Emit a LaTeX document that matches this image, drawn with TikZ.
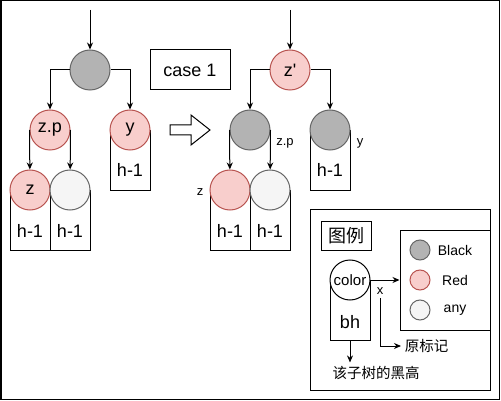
\documentclass[tikz,border=0pt]{standalone}
\usepackage{fontspec}
\setmainfont{Liberation Sans}
\newfontfamily\cjk{Noto Sans CJK SC}
\usetikzlibrary{arrows.meta}
\definecolor{blkfill}{HTML}{B3B3B3}
\definecolor{blkline}{HTML}{666666}
\definecolor{redfill}{HTML}{F8CECC}
\definecolor{redline}{HTML}{B85450}
\definecolor{anyfill}{HTML}{F5F5F5}

\begin{document}
\begin{tikzpicture}[x=1pt, y=-1pt, line width=1pt,
    big/.style={font=\fontsize{18}{20}\selectfont},
    small/.style={font=\fontsize{13}{15}\selectfont},
    cn/.style={font=\cjk\fontsize{14.5}{16}\selectfont},
    blacknode/.style={circle, draw=blkline, fill=blkfill, minimum size=40pt, inner sep=0pt},
    rednode/.style={circle, draw=redline, fill=redfill, minimum size=40pt, inner sep=0pt, big},
    anynode/.style={circle, draw=blkline, fill=anyfill, minimum size=40pt, inner sep=0pt},
    subtree/.style={draw, anchor=north, minimum width=40pt, minimum height=60pt, inner sep=0pt},
    arr/.style={-{Stealth[length=7pt, width=6pt]}}]

    \useasboundingbox (0,0) rectangle (501,401);
    \draw[line width=1.5pt] (0.75,0.75) rectangle (499.5,399.5);

    % Left tree, before the recolouring
    \node[subtree] (yt) at (130,130) {};
    \node[subtree] (zt) at (30,190) {};
    \node[subtree] (wt) at (70,190) {};
    \node[blacknode] (g) at (90,70) {};
    \node[rednode] (zp) at (50,130) {z.p};
    \node[rednode] (uncle) at (130,130) {y};
    \node[rednode] (z) at (30,190) {z};
    \node[anynode] (w) at (70,190) {};
    \node[big] (yh) at (130,170) {h-1};
    \node[big] (zh) at (30,231) {h-1};
    \node[big] (wh) at (70,231) {h-1};
    \coordinate (gin) at (90,10);
    \draw[arr] (gin) -- (g);
    \draw[arr] (g.west) -| (zp);
    \draw[arr] (g.east) -| (uncle);
    \draw[arr] (zp.west) -- (z);
    \draw[arr] (zp.east) -- (w);

    \node[draw, big, minimum width=80pt, minimum height=40pt] (case) at (190,70) {case 1};
    \draw[fill=white] (170,125) -- (191,125) -- (191,115) -- (210,130)
        -- (191,145) -- (191,135) -- (170,135) -- cycle;

    % Right tree, after the recolouring
    \node[subtree] (yt2) at (330,130) {};
    \node[subtree] (zt2) at (230,190) {};
    \node[subtree] (wt2) at (270,190) {};
    \node[rednode] (g2) at (290,70) {z\textquotesingle};
    \node[blacknode] (zp2) at (250,130) {};
    \node[blacknode] (uncle2) at (330,130) {};
    \node[rednode] (z2) at (230,190) {};
    \node[anynode] (w2) at (270,190) {};
    \node[big] (yh2) at (330,170) {h-1};
    \node[big] (zh2) at (230,231) {h-1};
    \node[big] (wh2) at (270,231) {h-1};
    \node[small] (zplbl) at (285,143) {z.p};
    \node[small] (ylbl) at (360,143) {y};
    \node[small] (zlbl) at (200,192) {z};
    \coordinate (gin2) at (290,10);
    \draw[arr] (gin2) -- (g2);
    \draw[arr] (g2.west) -| (zp2);
    \draw[arr] (g2.east) -| (uncle2);
    \draw[arr] (zp2.west) -- (z2);
    \draw[arr] (zp2.east) -- (w2);

    % Legend
    \node[draw, minimum width=180pt, minimum height=180pt] (legend) at (400,300) {};
    \node[draw, font=\cjk\fontsize{18}{20}\selectfont, minimum width=50pt, minimum height=29pt] (title) at (346,235.5) {图例};
    \node[draw, minimum width=90pt, minimum height=100pt] (keys) at (445,280) {};
    \node[blacknode, minimum size=20pt] (kb) at (420,250) {};
    \node[rednode, minimum size=20pt] (kr) at (420,280) {};
    \node[anynode, minimum size=20pt] (ka) at (420,310) {};
    \node[small, font=\fontsize{14}{16}\selectfont] (kbl) at (455,250) {Black};
    \node[small, font=\fontsize{14}{16}\selectfont] (krl) at (455,280) {Red};
    \node[small, font=\fontsize{14}{16}\selectfont] (kal) at (455,310) {any};
    \node[subtree] (bhbox) at (350,280) {};
    \node[circle, draw, fill=white, minimum size=40pt, inner sep=0pt, font=\fontsize{15}{17}\selectfont] (colour) at (350,280) {color};
    \node[big] (bh) at (350,322) {bh};
    \node[small] (xlbl) at (380,291) {x};
    \node[cn, anchor=west] (orig) at (401,346) {原标记};
    \node[cn] (bhnote) at (376,373) {该子树的黑高};
    \draw[arr] (colour) -- (keys);
    \draw[arr] (xlbl) |- (orig);
    \draw[arr] (bhbox.south) -- (bhbox.south |- bhnote.north);
\end{tikzpicture}
\end{document}
